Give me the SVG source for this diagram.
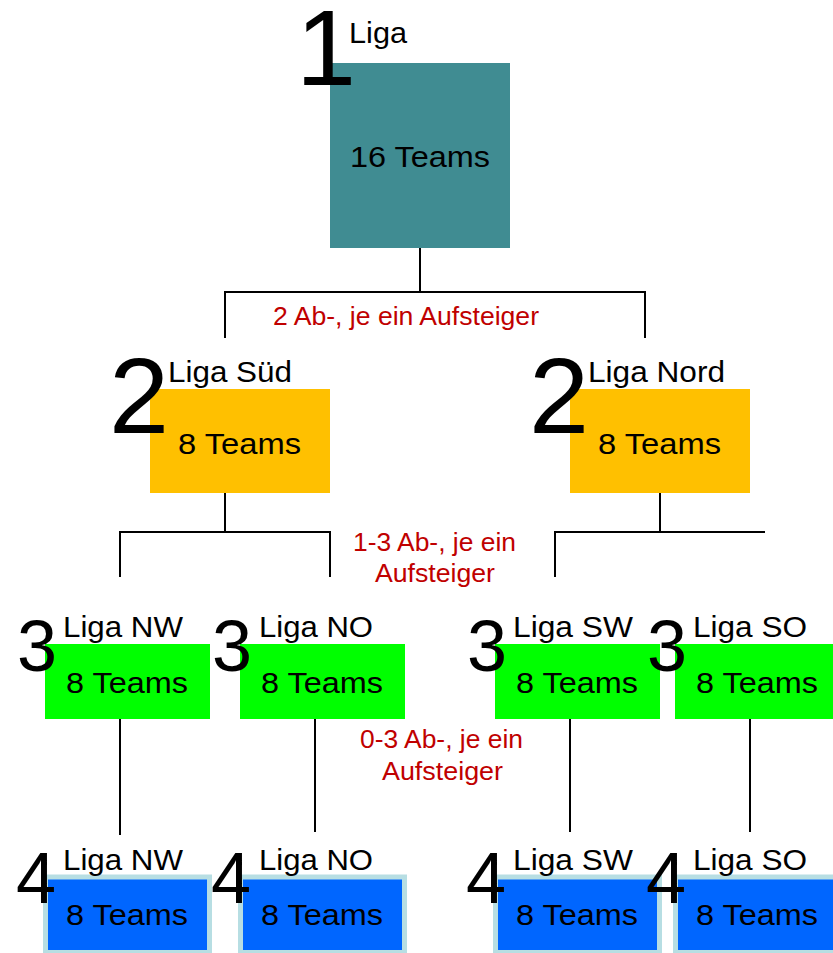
<svg xmlns="http://www.w3.org/2000/svg" width="833" height="953" viewBox="0 0 833 953">
<style>
text{font-family:"Liberation Sans",Arial,sans-serif;fill:#000}
.big{font-size:108px}
.mid{font-size:72px}
.lbl{font-size:29px}
.red{font-size:25px;fill:#c00000}
.l1{fill:#408c92}
.l2{fill:#ffc000}
.l3{fill:#00ff00}
.l4{fill:#0066ff;stroke:#b7dee3;stroke-width:5}
.con line{stroke:#000;stroke-width:2;fill:none}
</style>
<rect width="833" height="953" fill="#fff"/>
<g id="connectors" class="con">
<line x1="420" y1="248" x2="420" y2="292"/>
<line x1="224" y1="292" x2="646" y2="292"/>
<line x1="225" y1="292" x2="225" y2="338"/>
<line x1="645" y1="292" x2="645" y2="338"/>
<line x1="225" y1="489" x2="225" y2="532"/>
<line x1="119" y1="532" x2="331" y2="532"/>
<line x1="120" y1="532" x2="120" y2="577"/>
<line x1="330" y1="532" x2="330" y2="577"/>
<line x1="660" y1="489" x2="660" y2="532"/>
<line x1="554" y1="532" x2="765" y2="532"/>
<line x1="555" y1="532" x2="555" y2="577"/>
<line x1="120" y1="715" x2="120" y2="835"/>
<line x1="315" y1="713" x2="315" y2="832"/>
<line x1="570" y1="713" x2="570" y2="832"/>
<line x1="750" y1="713" x2="750" y2="832"/>
</g>
<g id="labels-promotion">
<text class="red" x="273" y="325" textLength="266" lengthAdjust="spacingAndGlyphs">2 Ab-, je ein Aufsteiger</text>
<text class="red" x="353" y="551" textLength="163" lengthAdjust="spacingAndGlyphs">1-3 Ab-, je ein</text>
<text class="red" x="375" y="582" textLength="120" lengthAdjust="spacingAndGlyphs">Aufsteiger</text>
<text class="red" x="360" y="748" textLength="163" lengthAdjust="spacingAndGlyphs">0-3 Ab-, je ein</text>
<text class="red" x="382" y="780" textLength="121" lengthAdjust="spacingAndGlyphs">Aufsteiger</text>
</g>
<g id="liga1">
<rect class="l1" x="330" y="63" width="180" height="185"/>
<text class="big" x="296" y="85">1</text>
<text class="lbl" x="349" y="43" textLength="58" lengthAdjust="spacingAndGlyphs">Liga</text>
<text class="lbl" x="350" y="167" textLength="140" lengthAdjust="spacingAndGlyphs">16 Teams</text>
</g>
<g id="liga2-sued">
<rect class="l2" x="150" y="389" width="180" height="104"/>
<text class="big" x="109" y="433">2</text>
<text class="lbl" x="168" y="382" textLength="124" lengthAdjust="spacingAndGlyphs">Liga Süd</text>
<text class="lbl" x="178" y="454" textLength="123" lengthAdjust="spacingAndGlyphs">8 Teams</text>
</g>
<g id="liga2-nord">
<rect class="l2" x="570" y="389" width="180" height="104"/>
<text class="big" x="529" y="433">2</text>
<text class="lbl" x="588" y="382" textLength="137" lengthAdjust="spacingAndGlyphs">Liga Nord</text>
<text class="lbl" x="598" y="454" textLength="123" lengthAdjust="spacingAndGlyphs">8 Teams</text>
</g>
<g id="liga3-nw">
<rect class="l3" x="45" y="644" width="165" height="75"/>
<text class="mid" x="17" y="671">3</text>
<text class="lbl" x="63" y="637" textLength="120" lengthAdjust="spacingAndGlyphs">Liga NW</text>
<text class="lbl" x="66" y="693" textLength="122" lengthAdjust="spacingAndGlyphs">8 Teams</text>
</g>
<g id="liga3-no">
<rect class="l3" x="240" y="644" width="165" height="75"/>
<text class="mid" x="212" y="671">3</text>
<text class="lbl" x="259" y="637" textLength="114" lengthAdjust="spacingAndGlyphs">Liga NO</text>
<text class="lbl" x="261" y="693" textLength="122" lengthAdjust="spacingAndGlyphs">8 Teams</text>
</g>
<g id="liga3-sw">
<rect class="l3" x="495" y="644" width="165" height="75"/>
<text class="mid" x="467" y="671">3</text>
<text class="lbl" x="513" y="637" textLength="120" lengthAdjust="spacingAndGlyphs">Liga SW</text>
<text class="lbl" x="516" y="693" textLength="122" lengthAdjust="spacingAndGlyphs">8 Teams</text>
</g>
<g id="liga3-so">
<rect class="l3" x="675" y="644" width="165" height="75"/>
<text class="mid" x="647" y="671">3</text>
<text class="lbl" x="693" y="637" textLength="114" lengthAdjust="spacingAndGlyphs">Liga SO</text>
<text class="lbl" x="696" y="693" textLength="122" lengthAdjust="spacingAndGlyphs">8 Teams</text>
</g>
<g id="liga4-nw">
<rect class="l4" x="45.5" y="877" width="164" height="75.5"/>
<text class="mid" x="16" y="903">4</text>
<text class="lbl" x="63" y="870" textLength="120" lengthAdjust="spacingAndGlyphs">Liga NW</text>
<text class="lbl" x="66" y="925" textLength="122" lengthAdjust="spacingAndGlyphs">8 Teams</text>
</g>
<g id="liga4-no">
<rect class="l4" x="240.5" y="877" width="164" height="75.5"/>
<text class="mid" x="211" y="903">4</text>
<text class="lbl" x="259" y="870" textLength="114" lengthAdjust="spacingAndGlyphs">Liga NO</text>
<text class="lbl" x="261" y="925" textLength="122" lengthAdjust="spacingAndGlyphs">8 Teams</text>
</g>
<g id="liga4-sw">
<rect class="l4" x="495.5" y="877" width="164" height="75.5"/>
<text class="mid" x="466" y="903">4</text>
<text class="lbl" x="513" y="870" textLength="120" lengthAdjust="spacingAndGlyphs">Liga SW</text>
<text class="lbl" x="516" y="925" textLength="122" lengthAdjust="spacingAndGlyphs">8 Teams</text>
</g>
<g id="liga4-so">
<rect class="l4" x="675.5" y="877" width="164" height="75.5"/>
<text class="mid" x="646" y="903">4</text>
<text class="lbl" x="693" y="870" textLength="114" lengthAdjust="spacingAndGlyphs">Liga SO</text>
<text class="lbl" x="696" y="925" textLength="122" lengthAdjust="spacingAndGlyphs">8 Teams</text>
</g>
</svg>
